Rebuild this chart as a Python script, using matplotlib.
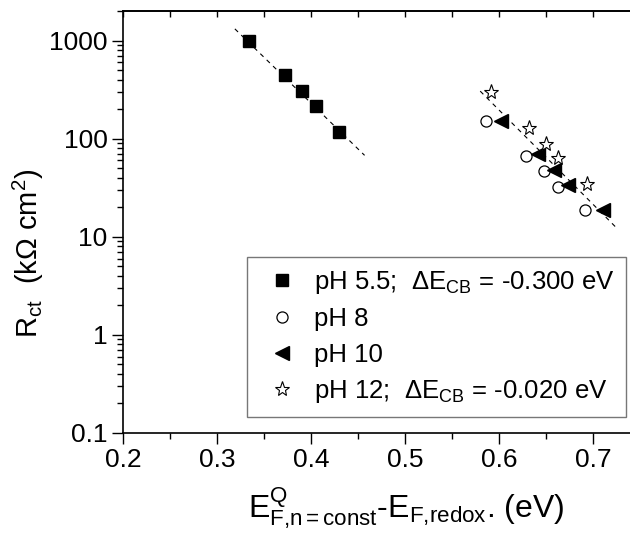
import matplotlib
matplotlib.use("Agg")
import matplotlib.pyplot as plt

plt.rcParams['font.family'] = ['Liberation Sans', 'DejaVu Sans']
plt.rcParams['mathtext.fontset'] = 'custom'
plt.rcParams['mathtext.rm'] = 'Liberation Sans'
plt.rcParams['mathtext.it'] = 'Liberation Sans'
plt.rcParams['mathtext.default'] = 'regular'

# --- data ---
x_ph55 = [0.334, 0.372, 0.390, 0.405, 0.430]
y_ph55 = [1000, 448, 303, 214, 117]

x_ph8 = [0.586, 0.629, 0.648, 0.663, 0.691]
y_ph8 = [151, 66.4, 46.7, 32.1, 18.9]

x_ph10 = [0.602, 0.641, 0.659, 0.673, 0.711]
y_ph10 = [153, 70, 47.5, 34, 18.9]

x_ph12 = [0.591, 0.632, 0.650, 0.663, 0.694]
y_ph12 = [298, 129, 89, 63.4, 34.7]

# dashed guide lines (end points)
fit_left_x = [0.319, 0.457]
fit_left_y = [1315, 67.6]
fit_right_x = [0.580, 0.724]
fit_right_y = [305, 12.6]

major_x = [0.2, 0.3, 0.4, 0.5, 0.6, 0.7]
minor_x = [0.25, 0.35, 0.45, 0.55, 0.65, 0.75]
y_ticks = [0.1, 1, 10, 100, 1000]
y_labels = ['0.1', '1', '10', '100', '1000']

fig = plt.figure(figsize=(6.3, 5.39), dpi=100)
ax = fig.add_axes([123 / 630, 106 / 539, 517 / 630, 422 / 539])

ax.plot(fit_left_x, fit_left_y, ls=(0, (4, 4)), color='black', lw=0.8)
ax.plot(fit_right_x, fit_right_y, ls=(0, (4, 4)), color='black', lw=0.8)

ax.plot(x_ph55, y_ph55, 's', color='black', ms=8, ls='none',
        label=r'pH 5.5;  $\Delta E_{CB}$ = -0.300 eV')
ax.plot(x_ph8, y_ph8, 'o', mfc='white', mec='black', mew=0.9, ms=8, ls='none',
        label='pH 8')
ax.plot(x_ph10, y_ph10, '<', color='black', ms=10, ls='none',
        label='pH 10')
ax.plot(x_ph12, y_ph12, '*', mfc='white', mec='black', mew=0.8, ms=11, ls='none',
        label=r'pH 12;  $\Delta E_{CB}$ = -0.020 eV')

ax.set_yscale('log')
ax.set_xlim(0.2, 0.75)
ax.set_ylim(0.1, 2000)
ax.set_xticks(major_x)
ax.set_xticks(minor_x, minor=True)
ax.set_yticks(y_ticks)
ax.set_yticklabels(y_labels)

ax.tick_params(axis='both', which='major', labelsize=19, length=8, width=1,
               direction='out', pad=3)
ax.tick_params(axis='both', which='minor', length=4, width=1, direction='out')
ax.spines['right'].set_visible(False)
for s in ax.spines.values():
    s.set_linewidth(1.2)

# top axis: inward ticks, no labels
top = ax.secondary_xaxis('top')
top.set_xticks(major_x + minor_x)
top.tick_params(direction='in', length=4, width=1, labeltop=False)
top.spines['top'].set_linewidth(1.2)

ax.set_ylabel(r'R$_{ct}$  (k$\Omega$ cm$^2$)', fontsize=21, labelpad=2)
ax.yaxis.label.set_y(0.425)
ax.set_xlabel(r'$E^{Q}_{F{,}n{=}const}$-$E_{F{,}redox}$. (eV)', fontsize=23, labelpad=10)
ax.xaxis.label.set_x(0.548)

leg = ax.legend(loc='upper left', bbox_to_anchor=(247 / 630, 1 - 257 / 539),
                bbox_transform=fig.transFigure, fontsize=18.5, frameon=True,
                fancybox=False, edgecolor='#555555', handletextpad=0.35,
                labelspacing=0.45, borderpad=0.45, handlelength=1.8,
                borderaxespad=0)
leg.get_frame().set_linewidth(1.0)

fig.savefig('out.png', dpi=100)
